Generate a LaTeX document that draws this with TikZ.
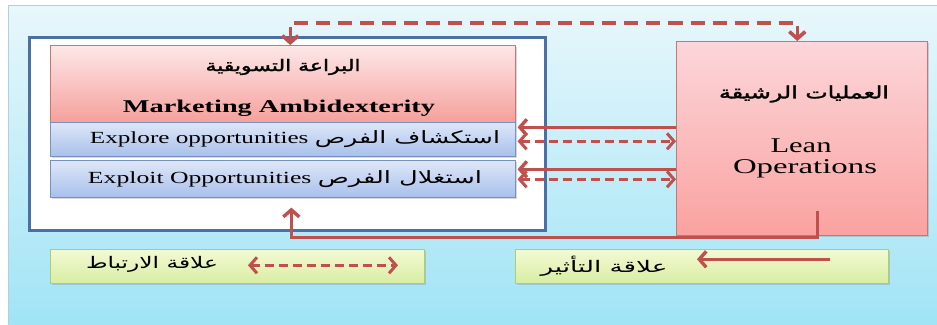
\documentclass[tikz,border=0pt]{standalone}
\usepackage{fontspec}
\usepackage{graphicx}
\setmainfont{Liberation Serif}
\newfontfamily\arabicfont[Script=Arabic]{DejaVu Sans}
\newfontfamily\arabicbold[Script=Arabic,FakeBold=1.5]{DejaVu Sans}
\TeXXeTstate=1
\usetikzlibrary{arrows.meta,shadows,calc}
\definecolor{arrowred}{RGB}{192,80,77}
\definecolor{bgtop}{RGB}{232,247,251}
\definecolor{bgbot}{RGB}{160,228,246}
\definecolor{bgline}{RGB}{175,210,218}
\definecolor{framebl}{RGB}{74,112,165}
\definecolor{pinktop}{RGB}{253,232,232}
\definecolor{pinkbot}{RGB}{245,160,156}
\definecolor{pinkline}{RGB}{196,120,118}
\definecolor{rtop}{RGB}{252,214,218}
\definecolor{rbot}{RGB}{250,162,160}
\definecolor{bluetop}{RGB}{222,231,247}
\definecolor{bluebot}{RGB}{168,192,236}
\definecolor{blueline}{RGB}{120,145,190}
\definecolor{greentop}{RGB}{243,250,212}
\definecolor{greenbot}{RGB}{216,237,162}
\definecolor{greenline}{RGB}{175,205,110}
\begin{document}
\begin{tikzpicture}[x=1pt,y=-1pt,
  >={Straight Barb[length=7pt,width=16pt]},
  box/.style={rectangle, inner sep=0pt, anchor=north west, line width=0.6pt},
  shadow/.style={drop shadow={opacity=0.3,shadow xshift=2pt,shadow yshift=-2pt}},
  pinkbox/.style={box, shadow, draw=pinkline, top color=pinktop, bottom color=pinkbot},
  leanbox/.style={box, shadow, draw=pinkline, top color=rtop, bottom color=rbot},
  bluebox/.style={box, shadow, draw=blueline, top color=bluetop, bottom color=bluebot},
  greenbox/.style={box, shadow, draw=greenline, top color=greentop, bottom color=greenbot},
  frame/.style={box, draw=framebl, line width=3pt, fill=white},
  txt/.style={inner sep=0pt},
  link/.style={draw=arrowred, line width=3.4pt},
  sline/.style={link},
  dline/.style={link, line width=3pt, dash pattern=on 9pt off 5pt},
  bigdash/.style={link, line width=3.6pt, dash pattern=on 14pt off 8pt}
]
\useasboundingbox (0,0) rectangle (937,324);
\shade[top color=bgtop, bottom color=bgbot] (8,5) rectangle (937,324);
\draw[bgline, line width=0.8pt] (937,5) -- (8,5) -- (8,324);

% frame and boxes
\node[frame, minimum width=516pt, minimum height=193pt] (frame) at (28,36) {};
\node[pinkbox, minimum width=465pt, minimum height=77pt] (mkt) at (50,45) {};
\node[bluebox, minimum width=465pt, minimum height=34pt] (explore) at (50,122) {};
\node[bluebox, minimum width=465pt, minimum height=37pt] (exploit) at (50,160) {};
\node[leanbox, minimum width=251pt, minimum height=194pt] (lean) at (676,41) {};
\node[greenbox, minimum width=374pt, minimum height=34pt] (legA) at (50,249) {};
\node[greenbox, minimum width=373pt, minimum height=34pt] (legB) at (515,249) {};

% texts
\node[txt] (mktar) at (283,67) {\fontsize{16}{19}\selectfont\resizebox{155pt}{\height}{\arabicbold\beginR البراعة التسويقية\endR}};
\node[txt, anchor=base] (mkten) at (279,112) {\fontsize{18}{21}\selectfont\resizebox{312pt}{\height}{\bfseries Marketing Ambidexterity}};
\node[txt, anchor=base] (explt) at (295,143) {\fontsize{17}{20}\selectfont\resizebox{410pt}{\height}{Explore opportunities {\arabicfont\beginR استكشاف الفرص\endR}}};
\node[txt, anchor=base] (exploitt) at (285,183) {\fontsize{17}{20}\selectfont\resizebox{394pt}{\height}{Exploit Opportunities {\arabicfont\beginR استغلال الفرص\endR}}};
\node[txt] (leanar) at (804,94) {\fontsize{17}{20}\selectfont\resizebox{170pt}{\height}{\arabicbold\beginR العمليات الرشيقة\endR}};
\node[txt, anchor=base] (leant) at (801,152) {\fontsize{21}{25}\selectfont\resizebox{61pt}{\height}{Lean}};
\node[txt, anchor=base] (opt) at (805,173) {\fontsize{21}{25}\selectfont\resizebox{144pt}{\height}{Operations}};
\node[txt] (legAt) at (152,264) {\fontsize{16}{19}\selectfont\resizebox{132pt}{\height}{\arabicfont\beginR علاقة الارتباط\endR}};
\node[txt] (legBt) at (604,266) {\fontsize{16}{19}\selectfont\resizebox{127pt}{\height}{\arabicfont\beginR علاقة التأثير\endR}};

% connectors
\draw[bigdash,<->] ($(mkt.north)+(7.5,0)$) -- ($(mkt.north)+(7.5,-22)$) -| ($(lean.north)+(-4.5,0)$);
\draw[sline,->] ($(explore.east -| lean.west)+(0,-12)$) -- ($(explore.east)+(2,-12)$);
\draw[dline,<->] ($(explore.east)+(2,2)$) -- ($(explore.east -| lean.west)+(0,2)$);
\draw[sline,->] ($(exploit.east -| lean.west)+(0,-9.5)$) -- ($(exploit.east)+(2,-9.5)$);
\draw[dline,<->] ($(exploit.east)+(2,0.5)$) -- ($(exploit.east -| lean.west)+(0,0.5)$);
\draw[sline,->] ($(lean.south)+(15.5,-25)$) -- ($(lean.south)+(15.5,2)$) -| ($(exploit.south)+(8.5,10)$);

% legend arrows
\coordinate (la1) at ($(legA.west)+(198,-1)$);
\coordinate (la2) at ($(legA.west)+(348,-1)$);
\draw[dline,<->] (la1) -- (la2);
\coordinate (lb1) at ($(legB.west)+(315,-7)$);
\coordinate (lb2) at ($(legB.west)+(182,-7)$);
\draw[sline,->] (lb1) -- (lb2);
\end{tikzpicture}
\end{document}
